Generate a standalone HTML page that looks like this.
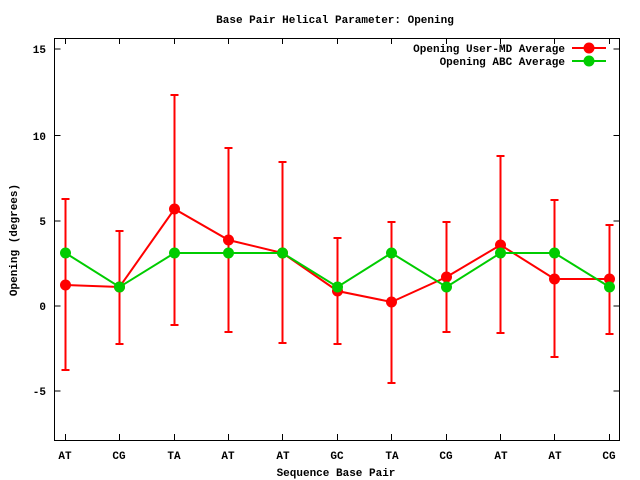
<!DOCTYPE html>
<html><head><style>body{margin:0;background:#fff}svg{display:block}text{font-family:"Liberation Mono",monospace;font-weight:bold;font-size:11px;fill:#000}</style></head><body>
<svg width="640" height="480" xmlns="http://www.w3.org/2000/svg">
<rect width="640" height="480" fill="#fff"/>
<text x="335" y="23" text-anchor="middle">Base Pair Helical Parameter: Opening</text>
<g stroke="#000" stroke-width="1">
<rect x="54.5" y="38.5" width="565" height="402" fill="none"/>
<path d="M54.5 49h6M619.5 49h-6M54.5 135.5h6M619.5 135.5h-6M54.5 221h6M619.5 221h-6M54.5 306h6M619.5 306h-6M54.5 391h6M619.5 391h-6"/>
<path d="M65.5 440v-6M65.5 38v6M119.5 440v-6M119.5 38v6M174.5 440v-6M174.5 38v6M228.5 440v-6M228.5 38v6M282.5 440v-6M282.5 38v6M337.5 440v-6M337.5 38v6M391.5 440v-6M391.5 38v6M446.5 440v-6M446.5 38v6M500.5 440v-6M500.5 38v6M554.5 440v-6M554.5 38v6M609.5 440v-6M609.5 38v6"/>
</g>
<g text-anchor="end"><text x="46" y="53">15</text><text x="46" y="140">10</text><text x="46" y="225">5</text><text x="46" y="310">0</text><text x="46" y="395">-5</text></g>
<g text-anchor="middle"><text x="65" y="459">AT</text><text x="119" y="459">CG</text><text x="174" y="459">TA</text><text x="228" y="459">AT</text><text x="283" y="459">AT</text><text x="337" y="459">GC</text><text x="392" y="459">TA</text><text x="446" y="459">CG</text><text x="501" y="459">AT</text><text x="555" y="459">AT</text><text x="609" y="459">CG</text></g>
<text x="336" y="476" text-anchor="middle">Sequence Base Pair</text>
<text transform="translate(17,240) rotate(-90)" text-anchor="middle">Opening (degrees)</text>
<g stroke="#f00" stroke-width="2" fill="none">
<path d="M65.5 370V199M61.5 370h8M61.5 199h8M119.5 344V231M115.5 344h8M115.5 231h8M174.5 325V95M170.5 325h8M170.5 95h8M228.5 332V148M224.5 332h8M224.5 148h8M282.5 343V162M278.5 343h8M278.5 162h8M337.5 344V238M333.5 344h8M333.5 238h8M391.5 383V222M387.5 383h8M387.5 222h8M446.5 332V222M442.5 332h8M442.5 222h8M500.5 333V156M496.5 333h8M496.5 156h8M554.5 357V200M550.5 357h8M550.5 200h8M609.5 334V225M605.5 334h8M605.5 225h8"/>
<polyline points="65.5,285 119.5,287 174.5,209 228.5,240 282.5,253 337.5,291 391.5,302 446.5,277 500.5,245 554.5,279 609.5,279"/>
<path d="M572 48h34"/>
</g>
<g fill="#f00"><circle cx="65.5" cy="285" r="5.5"/><circle cx="119.5" cy="287" r="5.5"/><circle cx="174.5" cy="209" r="5.5"/><circle cx="228.5" cy="240" r="5.5"/><circle cx="282.5" cy="253" r="5.5"/><circle cx="337.5" cy="291" r="5.5"/><circle cx="391.5" cy="302" r="5.5"/><circle cx="446.5" cy="277" r="5.5"/><circle cx="500.5" cy="245" r="5.5"/><circle cx="554.5" cy="279" r="5.5"/><circle cx="609.5" cy="279" r="5.5"/><circle cx="589" cy="48" r="5.5"/></g>
<g stroke="#0c0" stroke-width="2" fill="none">
<polyline points="65.5,253 119.5,287 174.5,253 228.5,253 282.5,253 337.5,287 391.5,253 446.5,287 500.5,253 554.5,253 609.5,287"/>
<path d="M572 61h34"/>
</g>
<g fill="#0c0"><circle cx="65.5" cy="253" r="5.5"/><circle cx="119.5" cy="287" r="5.5"/><circle cx="174.5" cy="253" r="5.5"/><circle cx="228.5" cy="253" r="5.5"/><circle cx="282.5" cy="253" r="5.5"/><circle cx="337.5" cy="287" r="5.5"/><circle cx="391.5" cy="253" r="5.5"/><circle cx="446.5" cy="287" r="5.5"/><circle cx="500.5" cy="253" r="5.5"/><circle cx="554.5" cy="253" r="5.5"/><circle cx="609.5" cy="287" r="5.5"/><circle cx="589" cy="61" r="5.5"/></g>
<g text-anchor="end"><text x="565" y="52">Opening User-MD Average</text><text x="565" y="65">Opening ABC Average</text></g>
</svg>
</body></html>
